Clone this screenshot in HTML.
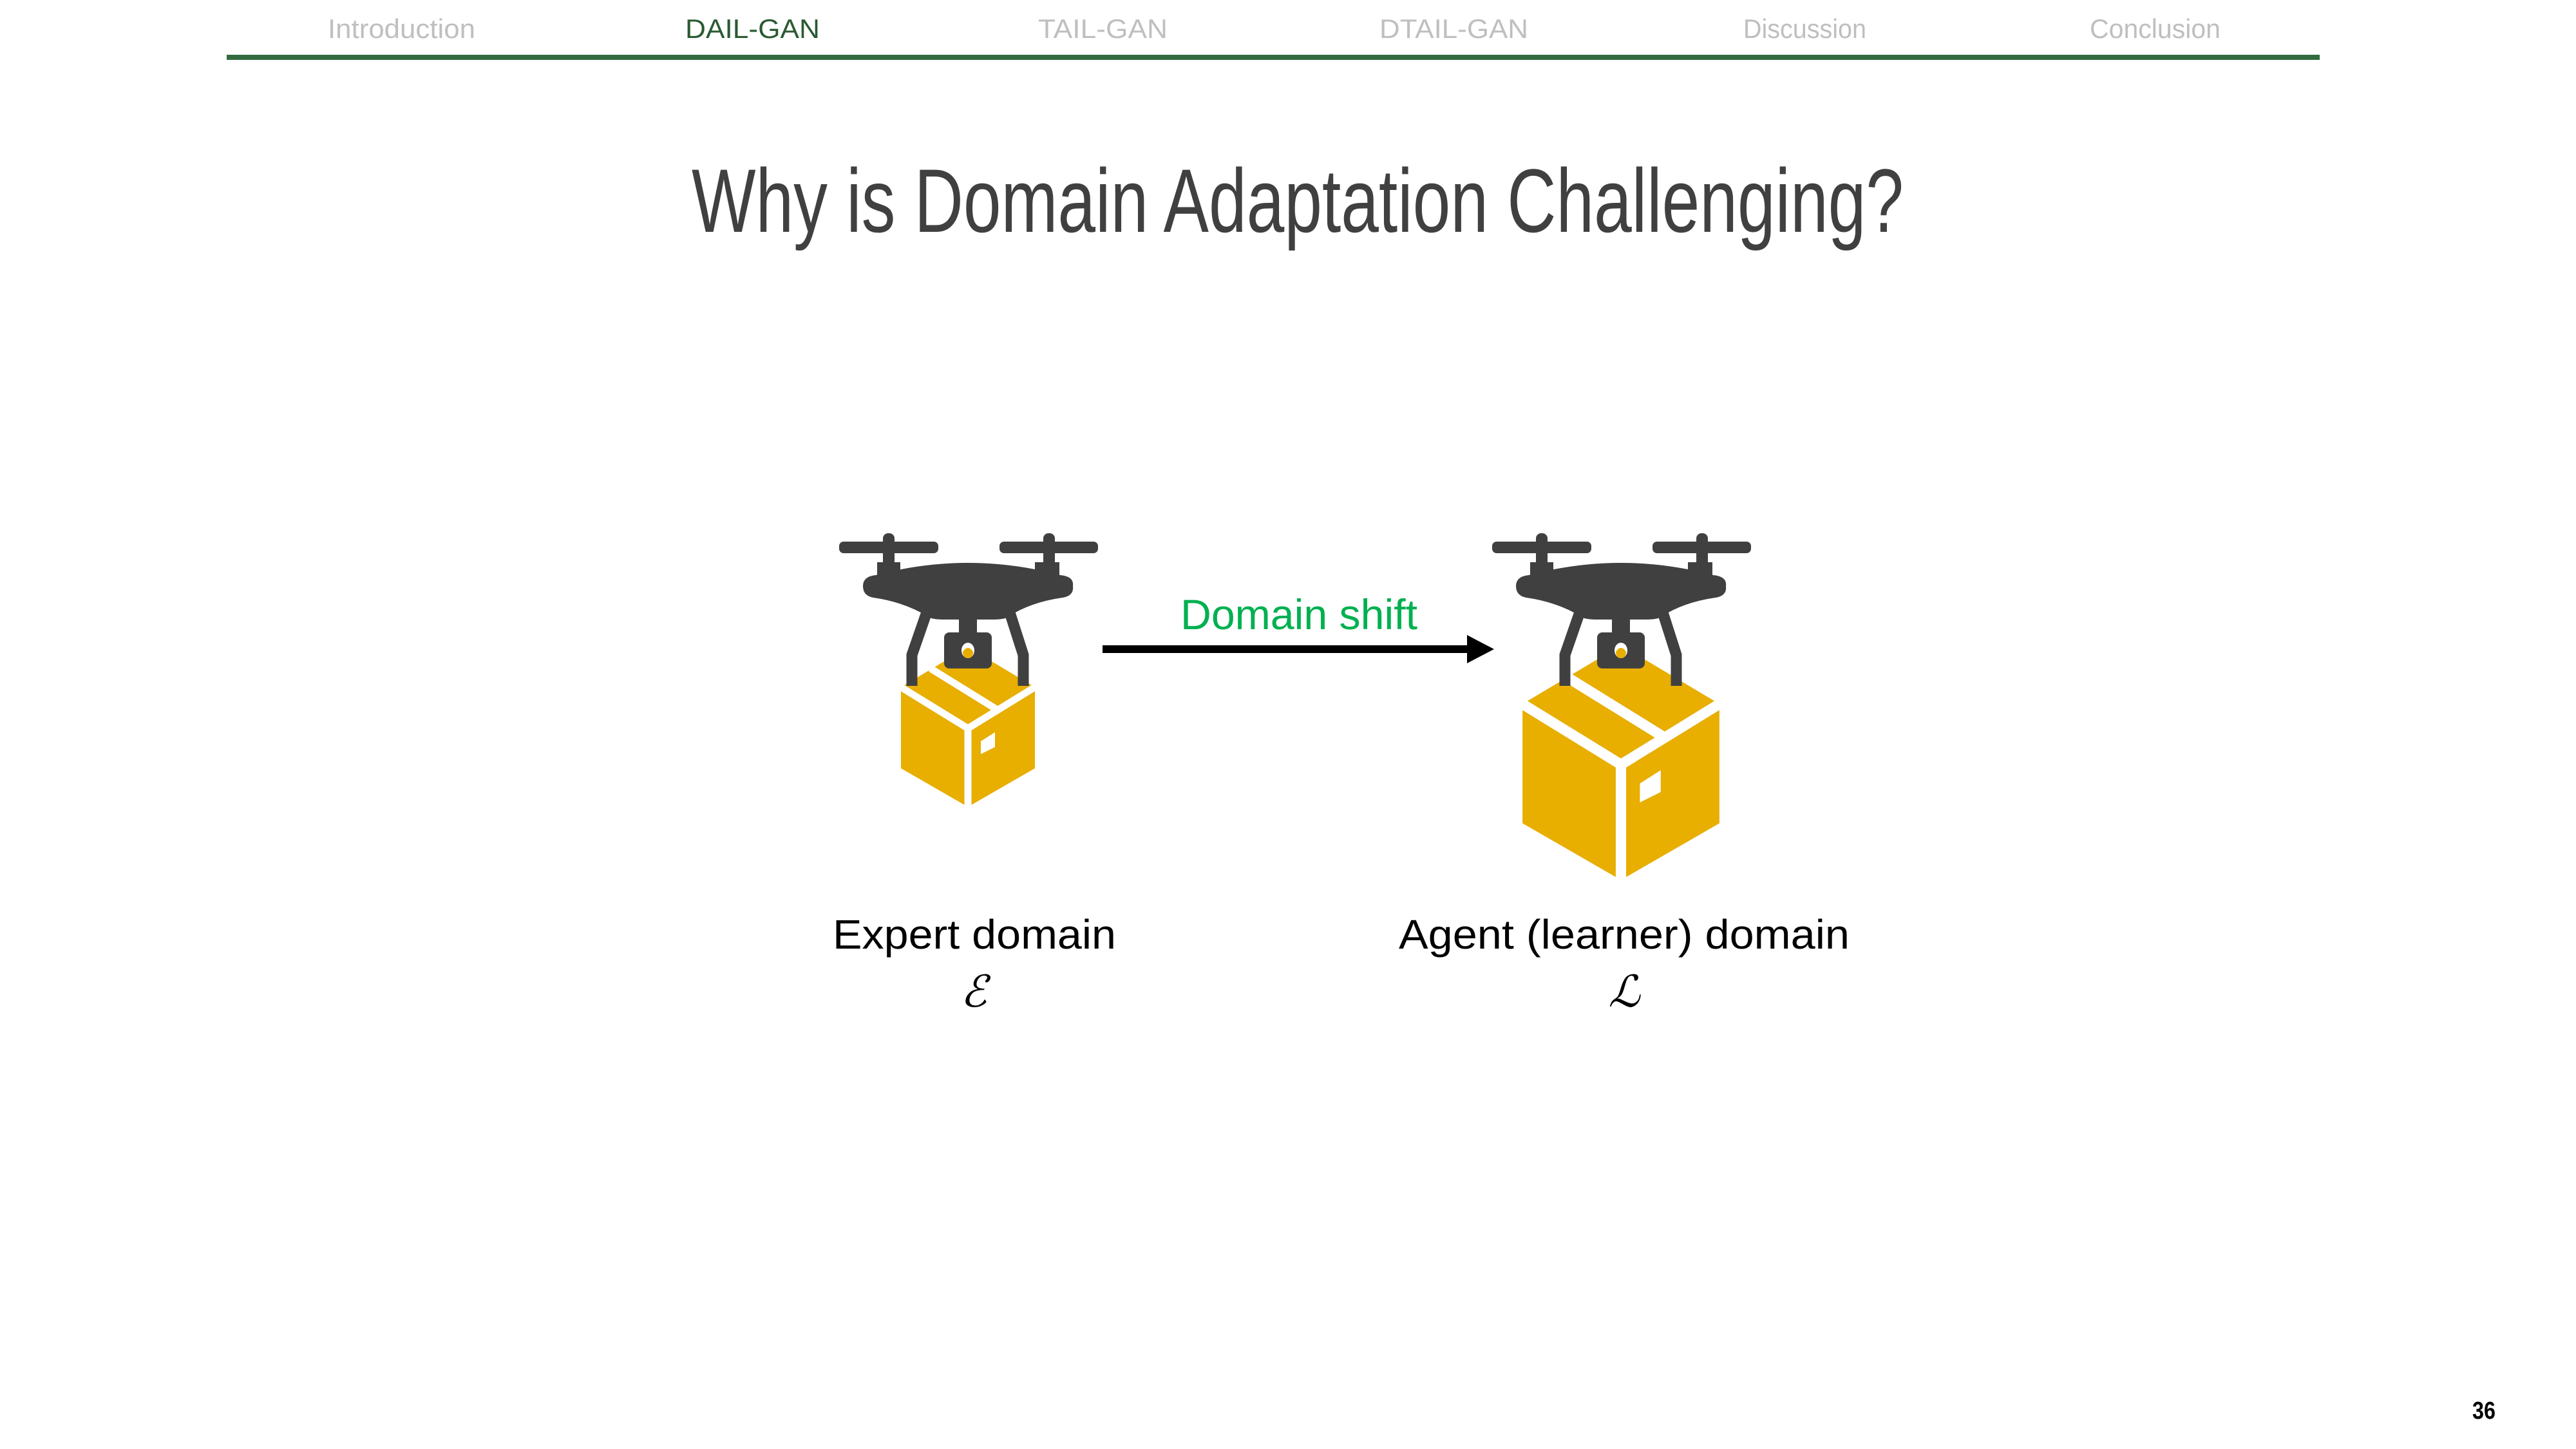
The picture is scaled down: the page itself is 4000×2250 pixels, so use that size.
<!DOCTYPE html>
<html><head><meta charset="utf-8"><style>
html,body{margin:0;padding:0;background:#fff;}
svg{display:block;}
</style></head><body>
<svg width="4000" height="2250" viewBox="0 0 4000 2250" xmlns="http://www.w3.org/2000/svg">
<rect width="4000" height="2250" fill="#fff"/>
<g font-family="Liberation Sans, sans-serif" font-size="42" fill="#bfbfbf">
<text x="509" y="59" textLength="229" lengthAdjust="spacingAndGlyphs">Introduction</text>
<text x="1064" y="59" textLength="209" lengthAdjust="spacingAndGlyphs" fill="#2a5a32">DAIL-GAN</text>
<text x="1612" y="59" textLength="201" lengthAdjust="spacingAndGlyphs">TAIL-GAN</text>
<text x="2142" y="59" textLength="231" lengthAdjust="spacingAndGlyphs">DTAIL-GAN</text>
<text x="2707" y="59" textLength="191" lengthAdjust="spacingAndGlyphs">Discussion</text>
<text x="3245" y="59" textLength="203" lengthAdjust="spacingAndGlyphs">Conclusion</text>
</g>
<rect x="352" y="85" width="3250" height="8" fill="#336b3f"/>
<text x="1074" y="360" font-family="Liberation Sans Narrow, Liberation Sans, sans-serif" font-size="140" fill="#404040" textLength="1882" lengthAdjust="spacingAndGlyphs">Why is Domain Adaptation Challenging?</text>

<defs>
<g id="drone">
<rect x="1371" y="828" width="18" height="60" rx="8" fill="#404040"/>
<rect x="1620" y="828" width="18" height="60" rx="8" fill="#404040"/>
<rect x="1303" y="841" width="154" height="18" rx="7" fill="#404040"/>
<rect x="1552" y="841" width="153" height="18" rx="7" fill="#404040"/>
<rect x="1362" y="873" width="36" height="26" fill="#404040"/>
<rect x="1607" y="873" width="38" height="26" fill="#404040"/>
<path d="M1360,893 Q1503,855 1646,893 Q1668,895 1666,910 Q1668,925 1650,928 Q1600,935 1565,958 Q1560,962 1540,962 L1467,962 Q1447,962 1442,958 Q1405,935 1356,928 Q1340,925 1340,910 Q1340,895 1360,893 Z" fill="#404040"/>
<rect x="1489" y="955" width="28" height="30" fill="#404040"/>
<path d="M1441,945 L1416,1017 L1416,1065" stroke="#404040" stroke-width="17" fill="none"/>
<path d="M1566,945 L1589,1017 L1589,1065" stroke="#404040" stroke-width="17" fill="none"/>
<rect x="1466" y="982" width="74" height="56" rx="8" fill="#404040"/>
<ellipse cx="1503" cy="1010" rx="10" ry="12" fill="#fff"/>
<path d="M1495,1012 Q1503,1000 1511,1012 Q1511,1022 1503,1022 Q1495,1022 1495,1012 Z" fill="#e8ae00"/>
</g>
<g id="box">
<polygon points="0,0 104,62 104,188 0,248 -104,188 -104,62" fill="#e8ae00"/>
<polyline points="-104,62 0,126 104,62" stroke="#fff" stroke-width="11" fill="none"/>
<line x1="0" y1="126" x2="0" y2="250" stroke="#fff" stroke-width="11"/>
<line x1="-58" y1="33" x2="47" y2="98" stroke="#fff" stroke-width="11"/>
<polygon points="42,132 42,155 20,166 20,146" fill="#fff"/>
</g>
</defs>

<use href="#box" transform="translate(1503,1005)"/>
<use href="#drone"/>
<use href="#box" transform="translate(2517,1002) scale(1.47)"/>
<use href="#drone" transform="translate(1014,0)"/>

<line x1="1712" y1="1008" x2="2285" y2="1008" stroke="#000" stroke-width="12"/>
<polygon points="2278,986 2320,1008 2278,1030" fill="#000"/>
<text x="1833" y="977" font-family="Liberation Sans, sans-serif" font-size="66" fill="#00b050" textLength="368" lengthAdjust="spacingAndGlyphs">Domain shift</text>

<g font-family="Liberation Sans, sans-serif" font-size="64" fill="#000">
<text x="1293" y="1473" textLength="440" lengthAdjust="spacingAndGlyphs">Expert domain</text>
<text x="2172" y="1473" textLength="700" lengthAdjust="spacingAndGlyphs">Agent (learner) domain</text>
</g>
<g font-family="DejaVu Serif, serif" font-style="italic" font-size="68" fill="#000" text-anchor="middle">
<text x="1512" y="1563">ℰ</text>
<text x="2522" y="1563">ℒ</text>
</g>
<text x="3839" y="2203" font-family="Liberation Sans Narrow, Liberation Sans, sans-serif" font-size="38" font-weight="bold" fill="#000" textLength="36" lengthAdjust="spacingAndGlyphs">36</text>
</svg>
</body></html>
